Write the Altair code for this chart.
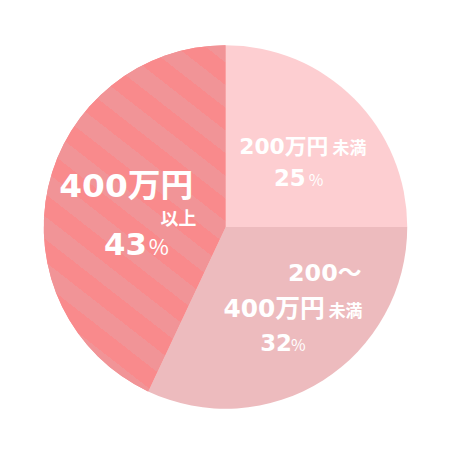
import math
import altair as alt
import pandas as pd

# ---- data ----
categories = ["200万円未満", "200～400万円未満", "400万円以上"]
shares = [25, 32, 43]
order_idx = [1, 2, 3]

# label texts per slice (slice index, text)
label_slice = [0, 0, 0, 0, 1, 1, 1, 1, 1, 2, 2, 2, 2]
label_text = ["200万円", "未満", "25", "%",
              "200～", "400万円", "未満", "32", "%",
              "400万円", "以上", "43", "%"]

# ---- style ----
slice_colors = ["#FDCED1", "#EDBBBE", "#F98A8C"]
stripe_dark = "#F98A8C"
stripe_light = "#F19497"
FONT = "DejaVu Sans, Noto Sans CJK JP"
FONT_CJK = "Noto Sans CJK JP"
R = 183
W, H = 438, 438
LABEL_R = 110
# (font, weight, fontSize, dx, dy) for each label part
label_style = [(FONT, "bold", 22, -64, 4), (FONT_CJK, "bold", 17, 30, 4),
               (FONT, "bold", 23, -29, 36), (FONT_CJK, "normal", 16, 6, 36),
               (FONT, "bold", 24, 4, -39), (FONT, "bold", 25, -61, -2),
               (FONT_CJK, "bold", 17, 45, -2), (FONT, "bold", 23, -24, 32),
               (FONT_CJK, "normal", 16, 7, 32),
               (FONT, "bold", 33, -60, -6), (FONT_CJK, "bold", 18, 42, 22),
               (FONT, "bold", 31, -15, 52), (FONT_CJK, "normal", 22, 30, 52)]

df = pd.DataFrame({"cat": categories, "pct": shares, "idx": order_idx})

theta_scale = alt.Scale(domain=[0, 100], range=[0, 2 * math.pi])

base = alt.Chart(df).transform_window(
    cum="sum(pct)", sort=[alt.SortField("idx")], frame=[None, 0]
).transform_calculate(
    t0="datum.cum - datum.pct", tm="datum.cum - datum.pct / 2"
)

pie = base.mark_arc(outerRadius=R).encode(
    theta=alt.Theta("t0:Q", scale=theta_scale),
    theta2="cum:Q",
    color=alt.Color("cat:N", scale=alt.Scale(domain=categories, range=slice_colors), legend=None),
)

# ---- diagonal stripes for the last slice via a hard-stop linear gradient ----
a = math.radians(38)
start_deg = (shares[0] + shares[1]) / 100 * 360
bw = R
bh = R * (1 + math.cos(math.radians(start_deg - 180)))
L = bw * math.sin(a) + bh * math.cos(a)
k = L / (bw * bw * math.sin(a) ** 2 + bh * bh * math.cos(a) ** 2)
gx2 = k * bw * math.sin(a)
gy2 = 1 - k * bh * math.cos(a)
band = 18.0
# phase point (relative to bbox bottom-left) where dark (below) turns light (above)
px, py = 151.0, -310.6
s0 = px * math.sin(a) - py * math.cos(a)


def band_color(s):
    u = (s - s0) % (2 * band)
    return stripe_light if u < band else stripe_dark


stops = []
cur = band_color(0.001)
stops.append(alt.GradientStop(offset=0, color=cur))
j = math.ceil((0 - s0) / band)
while True:
    sb = s0 + j * band
    if sb >= L:
        break
    if sb > 0:
        nxt = band_color(sb + 0.001)
        off = sb / L
        stops.append(alt.GradientStop(offset=off, color=cur))
        stops.append(alt.GradientStop(offset=off, color=nxt))
        cur = nxt
    j += 1
stops.append(alt.GradientStop(offset=1, color=cur))

grad = alt.LinearGradient(gradient="linear", stops=stops, x1=0, y1=1, x2=gx2, y2=gy2)

stripes = base.transform_filter(alt.datum.cat == categories[2]).mark_arc(
    outerRadius=R, fill=grad
).encode(
    theta=alt.Theta("t0:Q", scale=theta_scale),
    theta2="cum:Q",
)

layers = [pie, stripes]
for si, txt, (fnt, fw, fs, dx, dy) in zip(label_slice, label_text, label_style):
    layers.append(
        base.transform_filter(alt.datum.cat == categories[si]).mark_text(
            font=fnt, fontWeight=fw, fontSize=fs, color="white",
            align="left", baseline="alphabetic", dx=dx, dy=dy,
        ).encode(
            theta=alt.Theta("tm:Q", scale=theta_scale),
            radius=alt.value(LABEL_R),
            text=alt.value(txt),
        )
    )

chart = alt.layer(*layers).properties(
    width=W, height=H, padding=0, autosize="none"
).configure_view(stroke=None)

chart.save("out.html", embed_options={"renderer": "svg", "actions": False})
